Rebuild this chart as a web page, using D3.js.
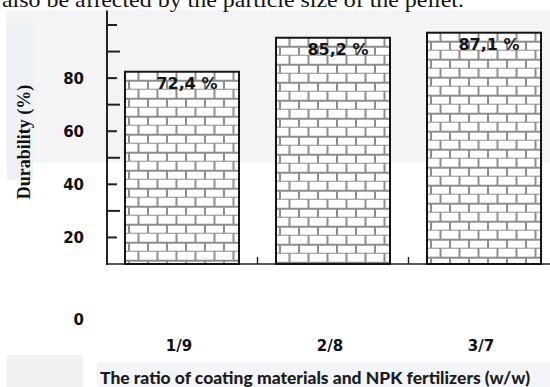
<!DOCTYPE html>
<html>
<head>
<meta charset="utf-8">
<script src="https://cdn.jsdelivr.net/npm/d3@7"></script>
<style>
  html, body { margin: 0; padding: 0; background: #ffffff; }
  svg { display: block; }
</style>
</head>
<body>
<svg id="chart" width="550" height="387"></svg>
<script>
// Coating ratio vs. pellet durability
const categories = ["1/9", "2/8", "3/7"];
const durability = [72.4, 85.2, 87.1];
const valueLabels = ["72,4 %", "85,2 %", "87,1 %"];
const minorTicks = [10, 20, 30, 40, 50, 60, 70, 80, 90];
const tickLabels = ["80", "60", "40", "20", "0"];
const tickLabelAt = [70, 50, 30, 10, -21];

const svg = d3.select("#chart");
const W = 550, H = 387;

// page backdrop panels
svg.append("rect").attr("x", 0).attr("y", 0).attr("width", W).attr("height", H).attr("fill", "#ffffff");
svg.append("rect").attr("x", 6).attr("y", 10).attr("width", W - 6).attr("height", 152).attr("fill", "#f4f4f7");
svg.append("rect").attr("x", 7).attr("y", 22).attr("width", 26).attr("height", 158).attr("fill", "#eef2f7");
svg.append("rect").attr("x", 7).attr("y", 355).attr("width", 76).attr("height", 32).attr("fill", "#f1f1f3");
svg.append("rect").attr("x", 97).attr("y", 362).attr("width", W - 97).attr("height", 25).attr("fill", "#f3f5f8");

// running text above the figure
svg.append("text")
  .attr("x", 2).attr("y", 7)
  .attr("font-family", "'Liberation Serif', 'Times New Roman', serif")
  .attr("font-size", 21)
  .attr("fill", "#111")
  .attr("textLength", 462).attr("lengthAdjust", "spacingAndGlyphs")
  .text("also be affected by the particle size of the pellet.");

const y = d3.scaleLinear().domain([0, 90]).range([264, 25]);
const x = d3.scaleBand().domain(categories).range([107, 559]).paddingInner(0.245).paddingOuter(0.119);

const axisX = 107;
const base = y(0);

// brick hatching, one pattern per bar so courses start at each bar top
const defs = svg.append("defs");
const bw = 19, bh = 9;
categories.forEach((c, i) => {
  const p = defs.append("pattern")
    .attr("id", "brick" + i)
    .attr("patternUnits", "userSpaceOnUse")
    .attr("width", bw).attr("height", bh * 2)
    .attr("x", x(c) + 4).attr("y", y(durability[i]));
  p.append("rect").attr("width", bw).attr("height", bh * 2).attr("fill", "#ffffff");
  const g = p.append("g").attr("stroke", "#8d8d8d").attr("stroke-width", 2).attr("fill", "none");
  g.append("line").attr("x1", 0).attr("x2", bw).attr("y1", bh).attr("y2", bh);
  g.append("line").attr("x1", 0).attr("x2", bw).attr("y1", bh * 2).attr("y2", bh * 2);
  g.append("line").attr("x1", bw / 2).attr("x2", bw / 2).attr("y1", 0).attr("y2", bh);
  g.append("line").attr("x1", 0).attr("x2", 0).attr("y1", bh).attr("y2", bh * 2);
  g.append("line").attr("x1", bw).attr("x2", bw).attr("y1", bh).attr("y2", bh * 2);
});

// x axis baseline and separators between groups
svg.append("line")
  .attr("x1", axisX).attr("x2", W).attr("y1", base).attr("y2", base)
  .attr("stroke", "#222").attr("stroke-width", 1.6);
const seps = categories.slice(0, -1).map(c => x(c) + x.bandwidth() + (x.step() - x.bandwidth()) / 2);
svg.selectAll(".sep").data(seps).join("line")
  .attr("x1", d => d).attr("x2", d => d)
  .attr("y1", base - 7).attr("y2", base)
  .attr("stroke", "#222").attr("stroke-width", 1.4);

// bars
svg.selectAll(".bar").data(durability).join("rect")
  .attr("class", "bar")
  .attr("x", (d, i) => x(categories[i]))
  .attr("y", d => y(d))
  .attr("width", x.bandwidth())
  .attr("height", d => base - y(d))
  .attr("fill", (d, i) => "url(#brick" + i + ")")
  .attr("stroke", "#151515").attr("stroke-width", 2);

// value labels inside the bars
svg.selectAll(".vlab").data(durability).join("text")
  .attr("x", (d, i) => x(categories[i]) + x.bandwidth() / 2 + 5)
  .attr("y", d => y(d) + 17.5)
  .attr("text-anchor", "middle")
  .attr("font-family", "'DejaVu Sans', sans-serif")
  .attr("font-weight", "bold").attr("font-size", 16)
  .attr("fill", "#151515")
  .text((d, i) => valueLabels[i]);

// y axis line and ticks
svg.append("line")
  .attr("x1", axisX).attr("x2", axisX).attr("y1", y(95.5)).attr("y2", base + 1)
  .attr("stroke", "#222").attr("stroke-width", 2);
svg.selectAll(".tk").data(minorTicks).join("line")
  .attr("x1", axisX)
  .attr("x2", d => axisX + (d % 20 === 0 ? 13 : 10))
  .attr("y1", d => y(d)).attr("y2", d => y(d))
  .attr("stroke", "#222").attr("stroke-width", 2);

// y tick labels
svg.selectAll(".tl").data(tickLabels).join("text")
  .attr("x", 84)
  .attr("y", (d, i) => y(tickLabelAt[i]))
  .attr("dy", "0.36em")
  .attr("text-anchor", "end")
  .attr("font-family", "'DejaVu Sans', sans-serif")
  .attr("font-weight", "bold").attr("font-size", 15)
  .attr("fill", "#111")
  .text(d => d);

// category labels
svg.selectAll(".cl").data(categories).join("text")
  .attr("x", d => x(d) + x.bandwidth() / 2 - 3)
  .attr("y", 351)
  .attr("text-anchor", "middle")
  .attr("font-family", "'DejaVu Sans', sans-serif")
  .attr("font-weight", "bold").attr("font-size", 15)
  .attr("fill", "#111")
  .text(d => d);

// axis titles
svg.append("text")
  .attr("transform", "translate(30,142) rotate(-90)")
  .attr("text-anchor", "middle")
  .attr("font-family", "'Liberation Serif', 'Times New Roman', serif")
  .attr("font-weight", "bold").attr("font-size", 18)
  .attr("fill", "#111")
  .text("Durability (%)");

svg.append("text")
  .attr("x", 100).attr("y", 384)
  .attr("font-family", "Lato, 'Open Sans', sans-serif")
  .attr("font-weight", 900).attr("font-size", 17)
  .attr("fill", "#1c1c1c")
  .attr("textLength", 430).attr("lengthAdjust", "spacingAndGlyphs")
  .text("The ratio of coating materials and NPK fertilizers (w/w)");
</script>
</body>
</html>
